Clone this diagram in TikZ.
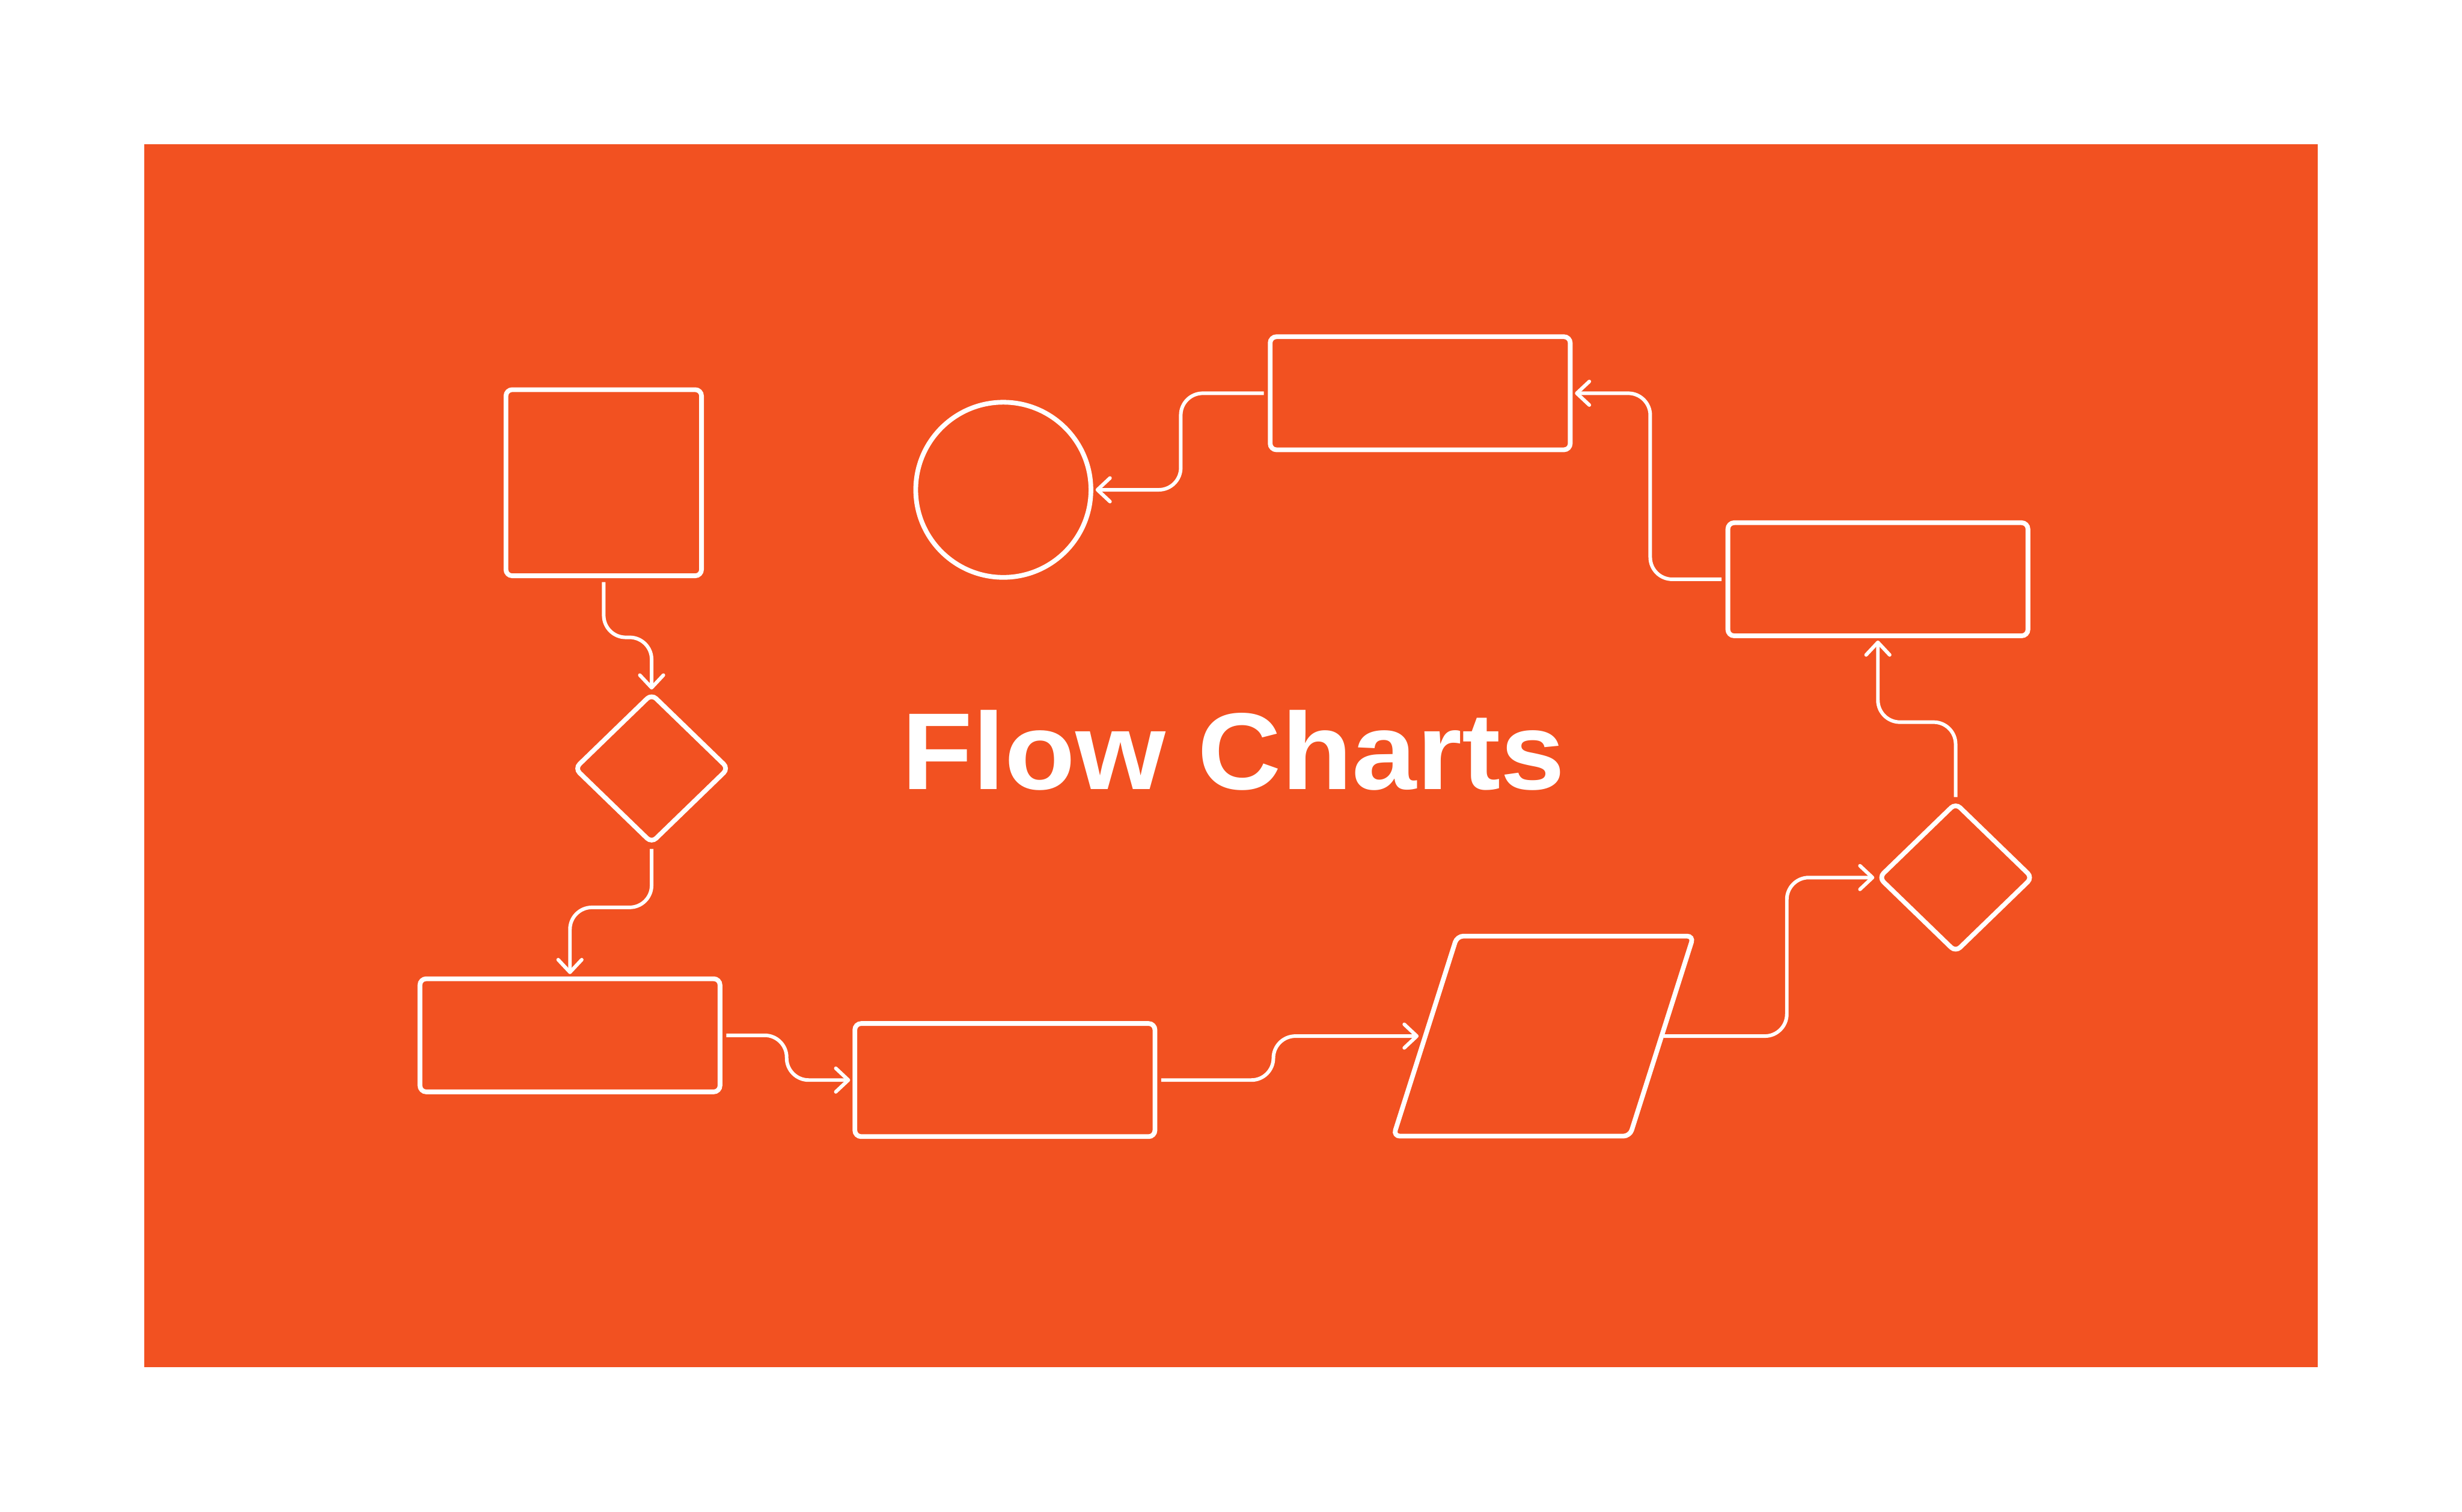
\documentclass[tikz,border=0pt]{standalone}
\usepackage{fontspec}
\setmainfont{Liberation Sans}
\usetikzlibrary{arrows.meta,shapes.geometric}
\definecolor{bgorange}{RGB}{242,81,33}
\tikzset{
  shp/.style={draw=white, line width=0.85pt, rounded corners=0.04cm, inner sep=0pt, outer sep=0pt},
  boxw/.style={shp, rectangle, minimum width=1.91cm, minimum height=0.72cm},
  dia/.style={shp, diamond, minimum width=0.975cm, minimum height=0.945cm},
  conn/.style={draw=white, line width=0.65pt, rounded corners=0.14cm,
    -{Straight Barb[length=0.8mm,width=1.5mm,round]}, shorten >=0.03cm},
}
\begin{document}
\begin{tikzpicture}[x=0.01cm,y=-0.01cm]
\useasboundingbox (0,0) rectangle (1568,963);
\fill[white] (0,0) rectangle (1568,963);
\fill[bgorange] (92,92) rectangle (1476,871);

\node[shp, rectangle, minimum width=1.245cm, minimum height=1.185cm] (b1) at (384.5,307.5) {};
\node[dia] (d1) at (415,489.5) {};
\node[boxw] (b3) at (363,659.5) {};
\node[boxw] (b4) at (640,688) {};
\draw[shp] (928,596.3) -- (1078.5,596.3) -- (1038,723.7) -- (887.5,723.7) -- cycle;
\coordinate (paraW) at (906.5,660);
\coordinate (paraE) at (1059.5,660);
\node[dia] (d2) at (1245.5,559) {};
\node[boxw] (b5) at (1196,369) {};
\node[boxw] (b6) at (904.5,250.5) {};
\node[shp, circle, minimum size=1.115cm] (circ) at (639,312) {};

\draw[conn] ([yshift=-0.04cm]b1.south) -- (384.5,406) -- (415,406) -- (d1.north);
\draw[conn] ([yshift=-0.04cm]d1.south) -- (415,578) -- (363,578) -- (b3.north);
\draw[conn] ([xshift=0.04cm]b3.east) -- (501,659.5) -- (501,688) -- (b4.west);
\draw[conn] ([xshift=0.04cm]b4.east) -- (811,688) -- (811,660) -- (paraW);
\draw[conn] (paraE) -- (1138,660) -- (1138,559) -- (d2.west);
\draw[conn] ([yshift=0.04cm]d2.north) -- (1245.5,460) -- (1196,460) -- (b5.south);
\draw[conn] ([xshift=-0.04cm]b5.west) -- (1051,369) -- (1051,250.5) -- (b6.east);
\draw[conn] ([xshift=-0.04cm]b6.west) -- (752,250.5) -- (752,312) -- (circ.east);

\node[anchor=base, text=white, inner sep=0pt] (title) at (785.5,503)
  {\scalebox{1.06}[1]{\fontsize{19.8pt}{20pt}\selectfont\bfseries Flow Charts}};
\end{tikzpicture}
\end{document}
